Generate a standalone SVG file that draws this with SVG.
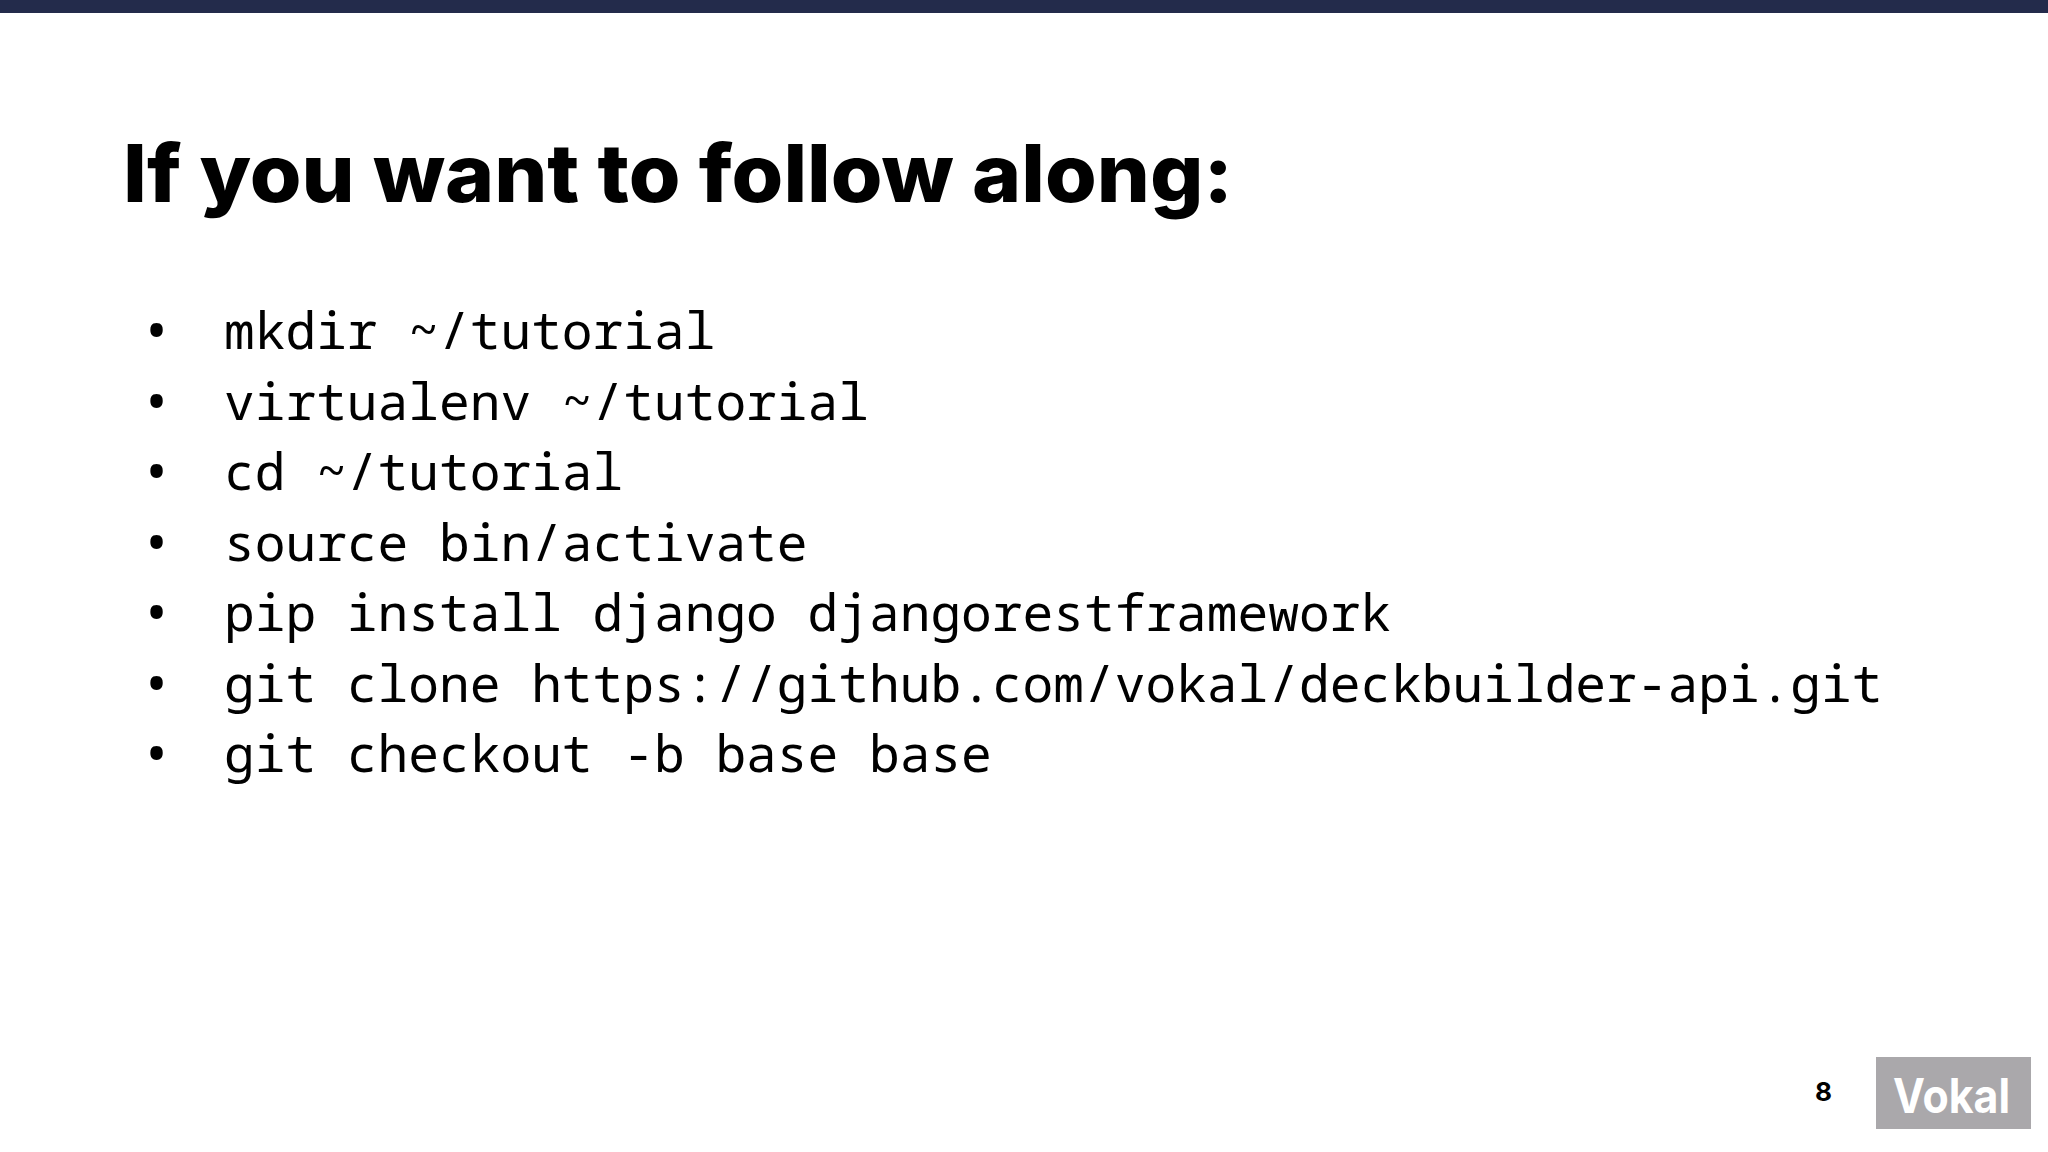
<svg xmlns="http://www.w3.org/2000/svg" width="2048" height="1152" viewBox="0 0 2048 1152">
<style>
.t{font-family:"Inter","Open Sans",sans-serif;font-weight:800;font-size:80px;fill:#000}
.c{font-family:"Noto Sans Mono","DejaVu Sans Mono",monospace;font-size:51.2px;fill:#000}
.b{font-family:"Noto Sans",sans-serif;font-size:56px;fill:#000}
.n{font-family:"Inter",sans-serif;font-weight:700;font-size:26px;fill:#000}
.l{font-family:"Inter",sans-serif;font-weight:700;font-size:48px;fill:#fff}
</style>
<rect width="2048" height="1152" fill="#fff"/>
<rect width="2048" height="13" fill="#232b4b"/>
<text class="t" x="123" y="202" textLength="1110" lengthAdjust="spacingAndGlyphs">If you want to follow along:</text>
<g id="list">
<text class="b" x="146" y="351">•</text><text class="c" x="224" y="349">mkdir ~/tutorial</text>
<text class="b" x="146" y="422">•</text><text class="c" x="224" y="420">virtualenv ~/tutorial</text>
<text class="b" x="146" y="492">•</text><text class="c" x="224" y="490">cd ~/tutorial</text>
<text class="b" x="146" y="563">•</text><text class="c" x="224" y="561">source bin/activate</text>
<text class="b" x="146" y="633">•</text><text class="c" x="224" y="631">pip install django djangorestframework</text>
<text class="b" x="146" y="704">•</text><text class="c" x="224" y="702">git clone https://github.com/vokal/deckbuilder-api.git</text>
<text class="b" x="146" y="774">•</text><text class="c" x="224" y="772">git checkout -b base base</text>
</g>
<text class="n" x="1815" y="1101" textLength="17" lengthAdjust="spacingAndGlyphs">8</text>
<g id="logo"><rect x="1876" y="1057" width="155" height="72" fill="#aaa8ab"/><text class="l" x="1893" y="1113" textLength="117" lengthAdjust="spacingAndGlyphs">Vokal</text></g>
</svg>
